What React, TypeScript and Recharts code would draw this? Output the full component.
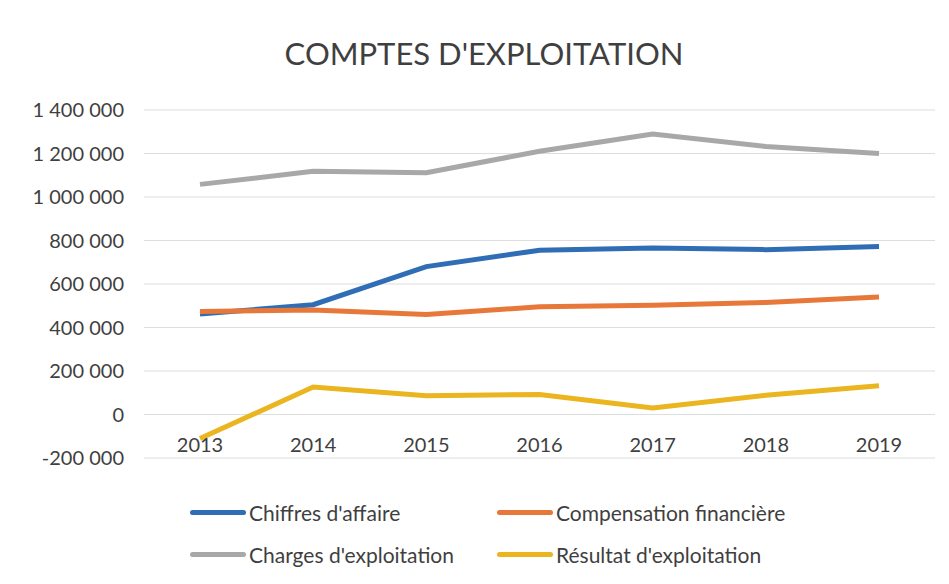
import React from 'react';
import { LineChart, Line, XAxis, YAxis, CartesianGrid, Legend } from 'recharts';

const years = ['2013', '2014', '2015', '2016', '2017', '2018', '2019'];
const chiffresAffaire = [462000, 505000, 680000, 755000, 765000, 758000, 772000];
const compensation = [474000, 480000, 460000, 495000, 502000, 515000, 540000];
const charges = [1058000, 1118000, 1112000, 1210000, 1290000, 1232000, 1200000];
const resultat = [-110000, 126000, 86000, 92000, 30000, 88000, 132000];
const yTicks = [-200000, 0, 200000, 400000, 600000, 800000, 1000000, 1200000, 1400000];
const seriesNames = ["Chiffres d'affaire", 'Compensation financière', "Charges d'exploitation", "Résultat d'exploitation"];

const data = years.map((year, i) => ({
    year,
    ca: chiffresAffaire[i],
    comp: compensation[i],
    charges: charges[i],
    res: resultat[i],
}));

const FONT = 'Lato, "Open Sans", sans-serif';
const TEXT = '#3f3f3f';

// French style thousands: 1 400 000
const fmt = (v: number) => {
    const s = Math.abs(v).toString().replace(/\B(?=(\d{3})+(?!\d))/g, ' ');
    return v < 0 ? '-' + s : s;
};

// year labels sit just under the zero line, above the -200 000 gridline
const YearTick = (props: any) => {
    const { x, y, payload } = props;
    return (
        <text x={x} y={y - 14} textAnchor="middle" fill={TEXT} fontSize={20} fontFamily={FONT}>
            {payload.value}
        </text>
    );
};

// 2x2 legend; zero height so it takes no room from the plot
const LegendBox = (props: any) => {
    const items = props.payload || [];
    const cols = [190, 497];
    return (
        <div style={{ position: 'relative', width: 949, height: 0 }}>
            {items.map((item: any, i: number) => (
                <div
                    key={item.value}
                    style={{
                        position: 'absolute',
                        left: cols[i % 2],
                        top: Math.floor(i / 2) * 42,
                        display: 'flex',
                        alignItems: 'center',
                        fontFamily: FONT,
                        fontSize: 21,
                        color: TEXT,
                        whiteSpace: 'nowrap',
                    }}
                >
                    <span style={{ display: 'inline-block', width: 56, height: 5, borderRadius: 3, background: item.color, marginRight: 3 }} />
                    {item.value}
                </div>
            ))}
        </div>
    );
};

export default function App() {
    return (
        <div style={{ position: 'absolute', left: 0, top: 0, width: 949, height: 584, background: '#fff', overflow: 'hidden' }}>
            <div
                style={{
                    position: 'absolute',
                    left: 0,
                    width: 968,
                    top: 34,
                    textAlign: 'center',
                    fontFamily: FONT,
                    fontSize: 31,
                    color: TEXT,
                }}
            >
                COMPTES D'EXPLOITATION
            </div>
            <LineChart width={949} height={584} data={data} margin={{ top: 110, right: 14, bottom: 96, left: 0 }}>
                <CartesianGrid vertical={false} stroke="#dedede" strokeWidth={1.2} />
                <XAxis
                    dataKey="year"
                    height={30}
                    padding={{ left: 56, right: 56 }}
                    axisLine={false}
                    tickLine={false}
                    tick={<YearTick />}
                    interval={0}
                />
                <YAxis
                    width={144}
                    domain={[-200000, 1400000]}
                    ticks={yTicks}
                    tickFormatter={fmt}
                    axisLine={false}
                    tickLine={false}
                    tickMargin={14}
                    tick={{ fontSize: 20, fill: TEXT, fontFamily: FONT }}
                />
                <Legend
                    verticalAlign="bottom"
                    content={<LegendBox />}
                    itemSorter={(item: any) => seriesNames.indexOf(item.value)}
                    wrapperStyle={{ position: 'absolute', left: 0, top: 500, width: 949 }}
                />
                <Line type="linear" dataKey="ca" name={seriesNames[0]} stroke="#2f6db5" strokeWidth={5} dot={false} isAnimationActive={false} />
                <Line type="linear" dataKey="comp" name={seriesNames[1]} stroke="#e8783a" strokeWidth={5} dot={false} isAnimationActive={false} />
                <Line type="linear" dataKey="charges" name={seriesNames[2]} stroke="#a8a8a8" strokeWidth={5} dot={false} isAnimationActive={false} />
                <Line type="linear" dataKey="res" name={seriesNames[3]} stroke="#ebb520" strokeWidth={5} dot={false} isAnimationActive={false} />
            </LineChart>
        </div>
    );
}
